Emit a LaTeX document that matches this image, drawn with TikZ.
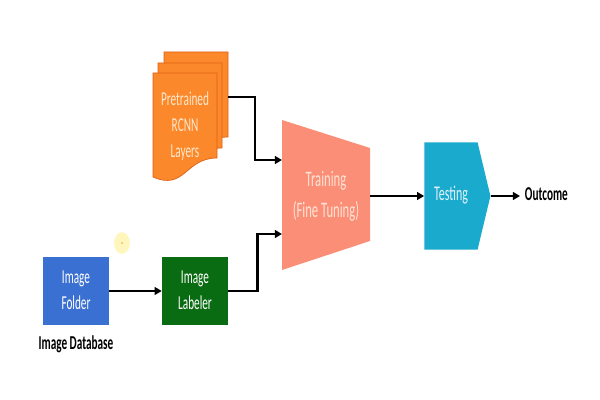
\documentclass[tikz,border=0pt]{standalone}
\usepackage{fontspec}
\setmainfont{Carlito}
\usepackage{graphicx}
\usetikzlibrary{arrows.meta,shapes.symbols}

\definecolor{folderblue}{RGB}{58,112,210}
\definecolor{labelgreen}{RGB}{10,108,18}
\definecolor{rcnnorange}{RGB}{251,136,42}
\definecolor{rcnnedge}{RGB}{222,96,22}
\definecolor{trainsalmon}{RGB}{251,142,118}
\definecolor{testteal}{RGB}{26,170,206}
\definecolor{cursorglow}{RGB}{255,246,190}

\newcommand{\tallstack}[1]{\scalebox{1}[1.75]{\begin{tabular}{@{}c@{}}#1\end{tabular}}}
\newcommand{\rcnnpage}[2]{%
  \filldraw[page] (#1,#2) -- (#1+64,#2) -- (#1+64,#2+85)
    .. controls (#1+32,#2+85) and (#1+32,#2+118) .. (#1,#2+104) -- cycle;}

\tikzset{
  block/.style={minimum width=1.65cm,minimum height=1.675cm,inner sep=0pt,
    text=white,font=\fontsize{8}{10.6}\selectfont},
  page/.style={fill=rcnnorange,draw=rcnnedge,line width=0.5pt},
  flow/.style={line width=1.8pt,-{Triangle[length=5pt,width=5.5pt]}},
  tagtext/.style={font=\bfseries\fontsize{8}{10}\selectfont},
}

\begin{document}
\begin{tikzpicture}[x=0.025cm,y=-0.025cm]
\useasboundingbox (0,0) rectangle (600,400);

% cursor highlight
\fill[cursorglow] (122,243) ellipse [x radius=0.2cm,y radius=0.27cm];
\fill[orange!80] (122,243) circle (0.7pt);

% image source
\node[block,fill=folderblue] (folder) at (76,291) {\tallstack{Image\\Folder}};
\node[tagtext] (database) at (76,345) {\tallstack{Image Database}};
\node[block,fill=labelgreen] (labeler) at (195,291) {\tallstack{Image\\Labeler}};

% pretrained layers
\rcnnpage{164}{52}
\rcnnpage{158}{63}
\rcnnpage{153}{73}
\node[text={rgb,255:red,255;green,232;blue,205},font=\fontsize{8}{10.6}\selectfont]
  (rcnn) at (185,126) {\tallstack{Pretrained\\RCNN\\Layers}};
\coordinate (rcnnout) at (228,97);

% training
\fill[trainsalmon] (282,120) -- (370,148) -- (370,241) -- (282,270) -- cycle;
\node[minimum width=2.2cm,minimum height=2.3cm,inner sep=0pt,
  text={rgb,255:red,255;green,226;blue,214},font=\fontsize{9}{12.6}\selectfont]
  (train) at (326,196) {\tallstack{Training\\(Fine Tuning)}};
\coordinate (trainhi) at (282,160);
\coordinate (trainlo) at (282,234);

% testing
\node[signal,signal to=east,signal pointer angle=153,fill=testteal,
  minimum width=1.65cm,minimum height=2.675cm,inner sep=0pt,
  text={rgb,255:red,225;green,243;blue,248},font=\fontsize{8.5}{10}\selectfont]
  (test) at (451,196) {\tallstack{Testing}};
\node[tagtext,anchor=west] (outcome) at (520,196) {\tallstack{Outcome}};

% connectors
\draw[flow] (folder.east) -- (labeler.west);
\draw[flow] (labeler.east) -- ++(29,0) |- (trainlo);
\draw[flow] (rcnnout) -- ++(27,0) |- (trainhi);
\draw[flow] (train.east) -- (test.west);
\draw[flow] (test.east) -- (outcome.west);
\end{tikzpicture}
\end{document}
